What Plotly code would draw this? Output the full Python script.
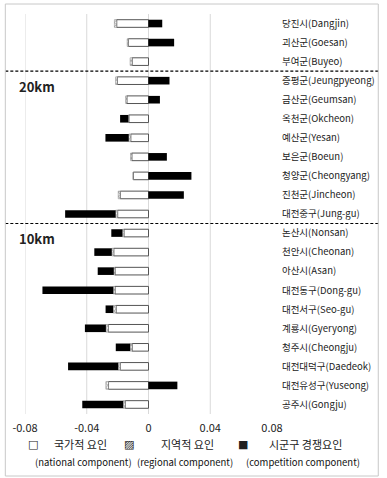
import plotly.graph_objects as go

categories = ["당진시(Dangjin)", "괴산군(Goesan)", "부여군(Buyeo)",
              "증평군(Jeungpyeong)", "금산군(Geumsan)", "옥천군(Okcheon)", "예산군(Yesan)",
              "보은군(Boeun)", "청양군(Cheongyang)", "진천군(Jincheon)", "대전중구(Jung-gu)",
              "논산시(Nonsan)", "천안시(Cheonan)", "아산시(Asan)", "대전동구(Dong-gu)",
              "대전서구(Seo-gu)", "계룡시(Gyeryong)", "청주시(Cheongju)", "대전대덕구(Daedeok)",
              "대전유성구(Yuseong)", "공주시(Gongju)"]

national = [-0.0206, -0.0130, -0.0106, -0.0202, -0.0140, -0.0127, -0.0115,
            -0.0108, -0.0098, -0.0183, -0.0200,
            -0.0159, -0.0225, -0.0217, -0.0217, -0.0210, -0.0261, -0.0106, -0.0183,
            -0.0259, -0.0151]
regional = [-0.0015, -0.0008, -0.0013, -0.0011, -0.0008, -0.0004, -0.0013,
            -0.0008, -0.0002, -0.0013, -0.0013,
            -0.0010, -0.0013, -0.0008, -0.0011, -0.0019, -0.0015, -0.0013, -0.0013,
            -0.0017, -0.0013]
competition = [0.0089, 0.0166, 0.0, 0.0136, 0.0074, -0.0053, -0.0151,
               0.0119, 0.0278, 0.0229, -0.0327,
               -0.0072, -0.0113, -0.0104, -0.0459, -0.0049, -0.0136, -0.0093, -0.0325,
               0.0187, -0.0265]

tick_vals = [-0.08, -0.04, 0, 0.04, 0.08]
tick_text = ["-0.08", "-0.04", "0", "0.04", "0.08"]
grid_vals = [-0.08, -0.04, 0, 0.04]
group_breaks = [2.5, 10.5]
group_labels = [("20km", 3), ("10km", 11)]

FONT = "Noto Sans CJK KR"
W, H = 387, 478
ML, MR, MT, MB = 25, 111, 14, 64
PW = W - ML - MR
PH = H - MT - MB

def px_x(p):
    return (p - ML) / PW

def px_y(p):
    return (H - MB - p) / PH

fig = go.Figure()
fig.add_trace(go.Bar(y=categories, x=national, orientation="h", name="national",
                     marker=dict(color="white", line=dict(color="#555555", width=1)),
                     width=0.4))
fig.add_trace(go.Bar(y=categories, x=regional, orientation="h", name="regional",
                     marker=dict(color="white", line=dict(color="#777777", width=0.5),
                                 pattern=dict(shape="x", fgcolor="#555555", size=3, solidity=0.5)),
                     width=0.4))
fig.add_trace(go.Bar(y=categories, x=competition, orientation="h", name="competition",
                     marker=dict(color="black", line=dict(width=0)),
                     width=0.4))

shapes = []
for g in grid_vals:
    shapes.append(dict(type="line", xref="x", yref="paper", x0=g, x1=g, y0=0, y1=1,
                       line=dict(color="#d9d9d9", width=1), layer="below"))
for b in group_breaks:
    shapes.append(dict(type="line", xref="paper", yref="y", x0=px_x(5), x1=px_x(384),
                       y0=b, y1=b, line=dict(color="black", width=1.2, dash="3px,2px")))
shapes.append(dict(type="rect", xref="paper", yref="paper", x0=px_x(5), x1=px_x(384),
                   y0=px_y(476), y1=px_y(4), line=dict(color="#c8c8c8", width=1)))

annotations = []
for txt, idx in group_labels:
    annotations.append(dict(text="<b>" + txt + "</b>", xref="paper", yref="y",
                            x=px_x(17), y=idx, xanchor="left", yanchor="top", yshift=6,
                            showarrow=False, font=dict(family=FONT, size=13, color="#222")))

legend_items = [
    ("□", 33, "국가적 요인", 81, "(national component)", 84),
    ("▨", 131, "지역적 요인", 190, "(regional component)", 188),
    ("■", 247, "시군구 경쟁요인", 310, "(competition component)", 308),
]
for sym, sx, kr, kx, en, ex in legend_items:
    annotations.append(dict(text=sym, xref="paper", yref="paper", x=px_x(sx), y=px_y(444),
                            xanchor="center", yanchor="middle", showarrow=False,
                            font=dict(family="DejaVu Sans", size=11, color="#222")))
    annotations.append(dict(text=kr, xref="paper", yref="paper", x=px_x(kx), y=px_y(444),
                            xanchor="center", yanchor="middle", showarrow=False,
                            font=dict(family=FONT, size=11, color="#222")))
    annotations.append(dict(text=en, xref="paper", yref="paper", x=px_x(ex), y=px_y(462),
                            xanchor="center", yanchor="middle", showarrow=False,
                            font=dict(family=FONT, size=9.5, color="#111")))

fig.update_layout(
    width=W, height=H,
    margin=dict(l=ML, r=MR, t=MT, b=MB, pad=0),
    barmode="relative",
    bargap=0.58,
    plot_bgcolor="white", paper_bgcolor="white",
    showlegend=False,
    shapes=shapes, annotations=annotations,
    xaxis=dict(range=[-0.08, 0.08], tickvals=tick_vals, ticktext=tick_text,
               showgrid=False, zeroline=False, showline=False,
               ticks="outside", ticklen=4, tickcolor="rgba(0,0,0,0)",
               tickfont=dict(family=FONT, size=11, color="#222")),
    yaxis=dict(side="right", autorange=False, range=[20.5, -0.5],
               categoryorder="array", categoryarray=categories,
               showgrid=False, zeroline=False, showline=False,
               ticks="outside", ticklen=7, tickcolor="rgba(0,0,0,0)",
               tickfont=dict(family=FONT, size=9.5, color="#222")),
)

fig.write_html("out.html", config={"displayModeBar": False},
               post_script="document.body.style.margin='0';")
